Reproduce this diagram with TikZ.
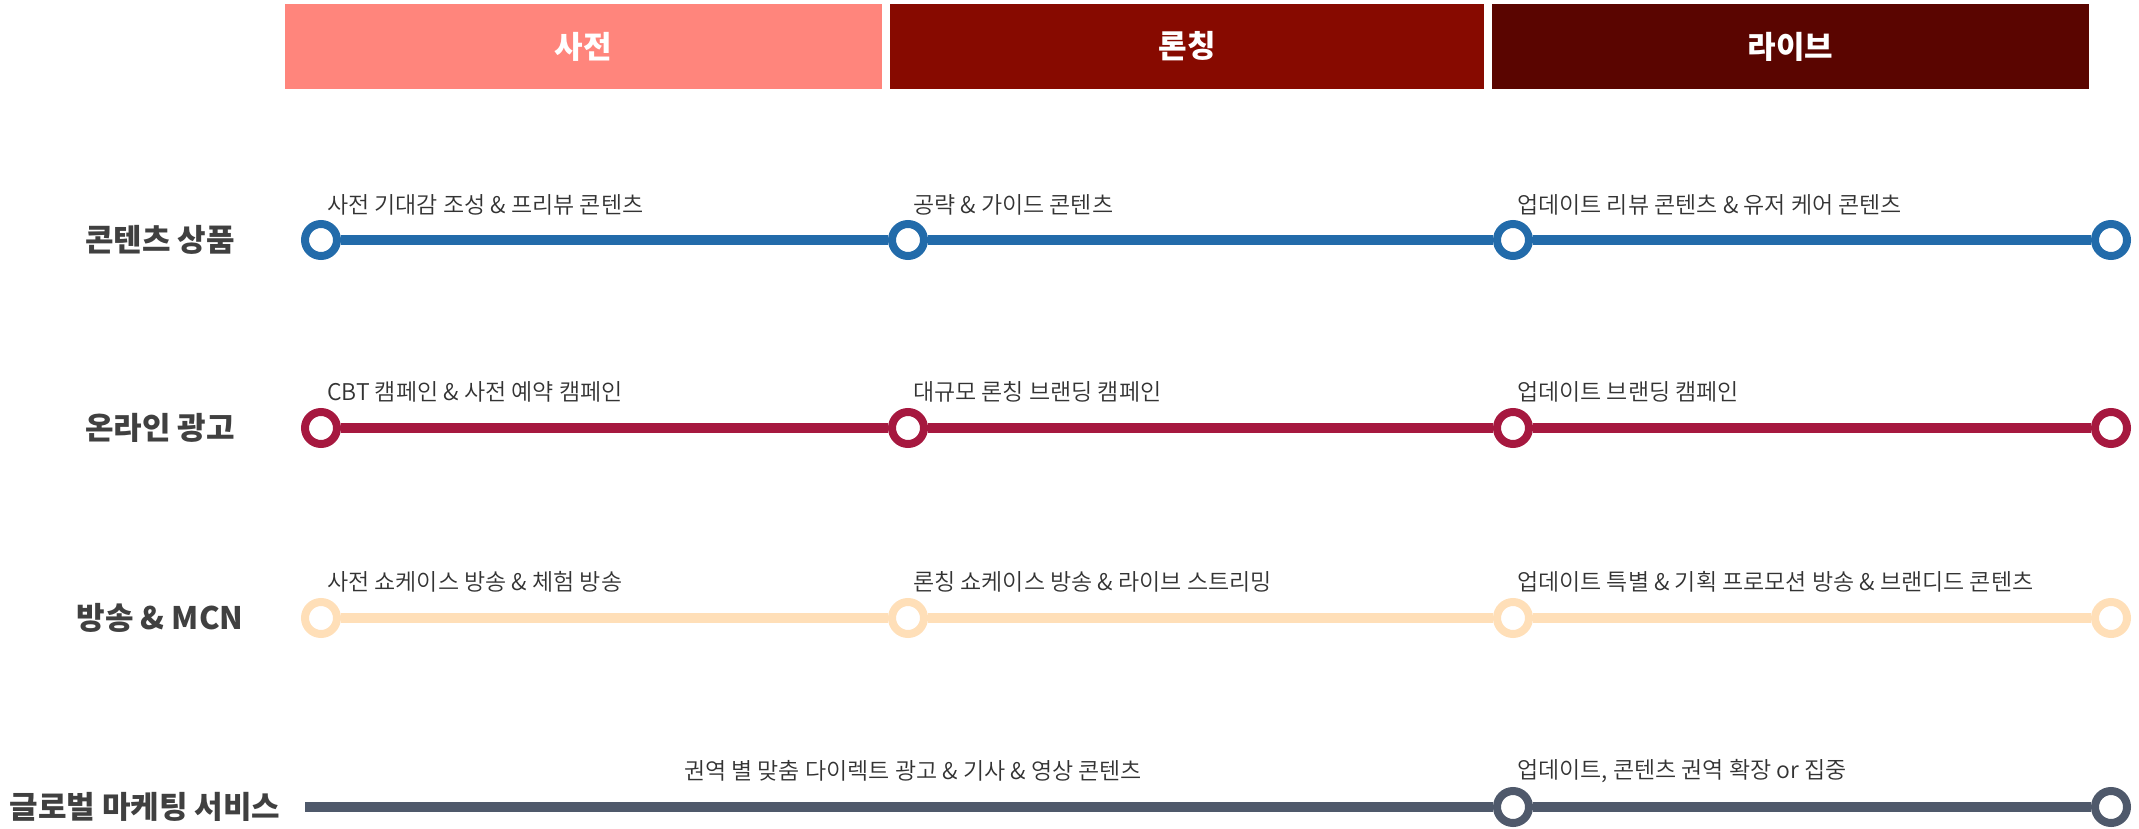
\documentclass[tikz,border=0pt]{standalone}
\usepackage{fontspec}
\setmainfont{Noto Sans CJK KR}
\newfontfamily\krlight{Noto Sans CJK KR DemiLight}
\definecolor{hA}{HTML}{FF857C}
\definecolor{hB}{HTML}{870A00}
\definecolor{hC}{HTML}{5A0500}
\definecolor{cBlue}{HTML}{226BAA}
\definecolor{cRed}{HTML}{A6183F}
\definecolor{cPeach}{HTML}{FFDFB8}
\definecolor{cSlate}{HTML}{4F596B}
\definecolor{txt}{HTML}{333333}
\definecolor{lab}{HTML}{404040}
\tikzset{
  head/.style={fill=#1, draw=none, minimum height=85pt, inner sep=0pt, text=white, font=\fontsize{31}{34}\selectfont\bfseries},
  stop/.style={circle, draw=#1, fill=white, line width=8pt, minimum size=32pt, inner sep=0pt},
  track/.style={draw=#1, line width=10pt},
  item/.style={anchor=west, inner sep=0pt, text=txt, font=\krlight\fontsize{23}{26}\selectfont},
  rowlab/.style={inner sep=0pt, text=lab, font=\fontsize{31}{34}\selectfont\bfseries}
}
\begin{document}
\begin{tikzpicture}[x=1pt,y=-1pt]
\useasboundingbox (0,0) rectangle (2139,829);
% headers
\node[head=hA, minimum width=597pt] (h1) at (583.5,46.5) {사전};
\node[head=hB, minimum width=594pt] (h2) at (1187,46.5) {론칭};
\node[head=hC, minimum width=597pt] (h3) at (1790.5,46.5) {라이브};
% row labels
\node[rowlab] (r1) at (160,240) {콘텐츠 상품};
\node[rowlab] (r2) at (160,428) {온라인 광고};
\node[rowlab] (r3) at (160,618) {방송 \& MCN};
\node[rowlab] (r4) at (145,807) {글로벌 마케팅 서비스};
% row 1
\node[stop=cBlue] (a1) at (321,240) {};
\node[stop=cBlue] (a2) at (908,240) {};
\node[stop=cBlue] (a3) at (1513,240) {};
\node[stop=cBlue] (a4) at (2111,240) {};
\path[track=cBlue] (a1) -- (a2) (a2) -- (a3) (a3) -- (a4);
\node[item] (ta1) at (327,205) {사전 기대감 조성 \& 프리뷰 콘텐츠};
\node[item] (ta2) at (913,205) {공략 \& 가이드 콘텐츠};
\node[item] (ta3) at (1517,205) {업데이트 리뷰 콘텐츠 \& 유저 케어 콘텐츠};
% row 2
\node[stop=cRed] (b1) at (321,428) {};
\node[stop=cRed] (b2) at (908,428) {};
\node[stop=cRed] (b3) at (1513,428) {};
\node[stop=cRed] (b4) at (2111,428) {};
\path[track=cRed] (b1) -- (b2) (b2) -- (b3) (b3) -- (b4);
\node[item] (tb1) at (327,392) {CBT 캠페인 \& 사전 예약 캠페인};
\node[item] (tb2) at (913,392) {대규모 론칭 브랜딩 캠페인};
\node[item] (tb3) at (1517,392) {업데이트 브랜딩 캠페인};
% row 3
\node[stop=cPeach] (c1) at (321,618) {};
\node[stop=cPeach] (c2) at (908,618) {};
\node[stop=cPeach] (c3) at (1513,618) {};
\node[stop=cPeach] (c4) at (2111,618) {};
\path[track=cPeach] (c1) -- (c2) (c2) -- (c3) (c3) -- (c4);
\node[item] (tc1) at (327,582) {사전 쇼케이스 방송 \& 체험 방송};
\node[item] (tc2) at (913,582) {론칭 쇼케이스 방송 \& 라이브 스트리밍};
\node[item] (tc3) at (1517,582) {업데이트 특별 \& 기획 프로모션 방송 \& 브랜디드 콘텐츠};
% row 4
\coordinate (d0) at (305,807);
\node[stop=cSlate] (d3) at (1513,807) {};
\node[stop=cSlate] (d4) at (2111,807) {};
\path[track=cSlate] (d0) -- (d3) (d3) -- (d4);
\node[item, anchor=center] (td0) at (913,771) {권역 별 맞춤 다이렉트 광고 \& 기사 \& 영상 콘텐츠};
\node[item] (td3) at (1517,771) {업데이트, 콘텐츠 권역 확장 or 집중};
\end{tikzpicture}
\end{document}
